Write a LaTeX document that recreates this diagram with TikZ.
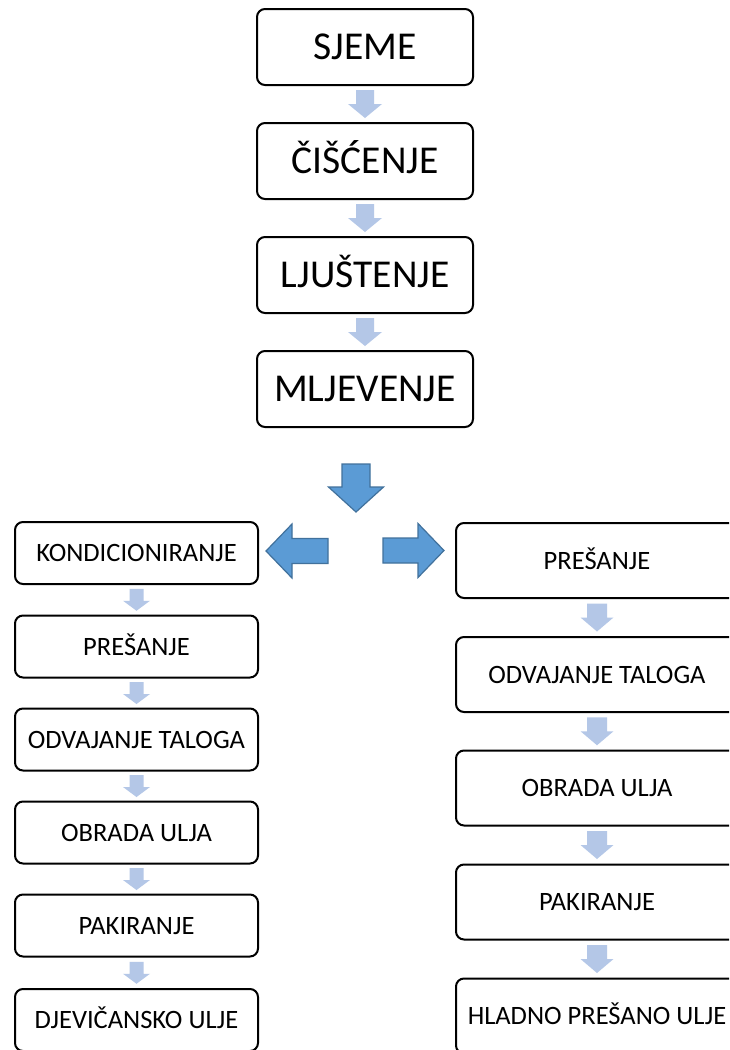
\documentclass[tikz,border=0pt]{standalone}
\usepackage{fontspec}
\setmainfont{Carlito}
\usetikzlibrary{calc}
\definecolor{lightarr}{HTML}{B4C7E7}
\definecolor{bigfill}{HTML}{5B9BD5}
\definecolor{bigdraw}{HTML}{41719C}
\tikzset{
  pics/blockarrow/.style n args={4}{code={
    \path[pic actions] (-#1,{-#3/2}) -- (#1,{-#3/2}) -- (#1,{#3/2-#4}) -- (#2,{#3/2-#4})
      -- (0,{#3/2}) -- (-#2,{#3/2-#4}) -- (-#1,{#3/2-#4}) -- cycle;
  }},
  basebox/.style={draw=black, line width=2pt, rounded corners=8pt, inner sep=0pt, text depth=0pt},
  topbox/.style={basebox, minimum width=216pt, minimum height=76pt,
    font=\fontsize{39.5}{47}\selectfont, text height=25.4pt},
  leftbox/.style={basebox, minimum width=243pt, minimum height=62pt,
    font=\fontsize{26.5}{32}\selectfont, text height=17.1pt},
  rightbox/.style={basebox, minimum width=282pt, minimum height=75pt,
    font=\fontsize{26.5}{32}\selectfont, text height=17.1pt},
  lightarrow/.style={fill=lightarr},
  bigarrow/.style={fill=bigfill, draw=bigdraw, line width=1.2pt, line join=miter},
}
\begin{document}
\begin{tikzpicture}[x=1pt,y=-1pt]
\useasboundingbox (0,0) rectangle (729,1050);
\clip (0,0) rectangle (729,1050);
\fill[white] (0,0) rectangle (729,1050);
% top column
\node[topbox] (s1) at (365,47) {SJEME};
\node[topbox] (s2) at (365,161) {ČIŠĆENJE};
\node[topbox] (s3) at (365,275) {LJUŠTENJE};
\node[topbox] (s4) at (365,389) {MLJEVENJE};
\foreach \a/\b in {s1/s2,s2/s3,s3/s4}
  \path ($(\a.south)!0.5!(\b.north)$) pic[lightarrow]{blockarrow={9}{17}{28}{14}};
% left column
\node[leftbox] (l1) at (136.5,553) {KONDICIONIRANJE};
\node[leftbox] (l2) at (136.5,646.5) {PREŠANJE};
\node[leftbox] (l3) at (136.5,739.5) {ODVAJANJE TALOGA};
\node[leftbox] (l4) at (136.5,832.5) {OBRADA ULJA};
\node[leftbox] (l5) at (136.5,925.5) {PAKIRANJE};
\node[leftbox] (l6) at (136.5,1020) {DJEVIČANSKO ULJE};
\foreach \a/\b in {l1/l2,l2/l3,l3/l4,l4/l5,l5/l6}
  \path ($(\a.south)!0.5!(\b.north)$) pic[lightarrow]{blockarrow={7}{13.5}{22}{10}};
% right column
\node[rightbox] (r1) at (597,560.5) {PREŠANJE};
\node[rightbox] (r2) at (597,674.5) {ODVAJANJE TALOGA};
\node[rightbox] (r3) at (597,788) {OBRADA ULJA};
\node[rightbox] (r4) at (597,902) {PAKIRANJE};
\node[rightbox] (r5) at (597,1016) {HLADNO PREŠANO ULJE};
\foreach \a/\b in {r1/r2,r2/r3,r3/r4,r4/r5}
  \path ($(\a.south)!0.5!(\b.north)$) pic[lightarrow]{blockarrow={10}{16.5}{28}{14}};
% big arrows
\path (356,488) pic[bigarrow]{blockarrow={14}{27.5}{48}{25}};
\path (413.5,550.5) pic[bigarrow, rotate=90]{blockarrow={12.5}{27}{61}{26}};
\path (297,551) pic[bigarrow, rotate=-90]{blockarrow={12.5}{27}{62}{26}};
\end{tikzpicture}
\end{document}
